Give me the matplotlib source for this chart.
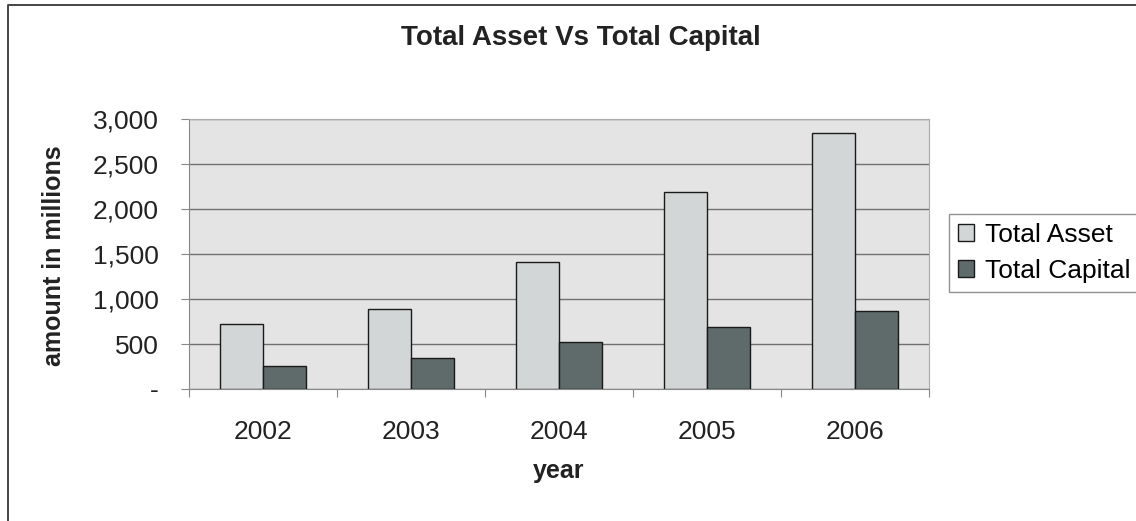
import numpy as np
import matplotlib.pyplot as plt
from matplotlib.ticker import FuncFormatter
from matplotlib.lines import Line2D

# veriler (milyon)
years = ['2002', '2003', '2004', '2005', '2006']
total_asset = [726, 889, 1408, 2193, 2841]
total_capital = [259, 344, 522, 685, 867]

plt.rcParams['font.family'] = ['Liberation Sans', 'DejaVu Sans']
W, H = 1136, 521

fig = plt.figure(figsize=(W / 100, H / 100), dpi=100)
ax = fig.add_axes([189 / W, 1 - 389 / H, 740 / W, 270 / H])

# dış çerçeve (sol ve üst kenar görünüyor)
fig.lines.append(Line2D([8 / W, 8 / W, 1.0], [0.0, 1 - 5 / H, 1 - 5 / H],
                        transform=fig.transFigure, color='#444444', linewidth=1.4))

x = np.arange(len(years))
w = 0.29
ax.bar(x - w / 2, total_asset, w, color='#d3d6d6', edgecolor='#1a1a1a',
       linewidth=1.0, label='Total Asset', zorder=3)
ax.bar(x + w / 2, total_capital, w, color='#5f6a6a', edgecolor='#1a1a1a',
       linewidth=1.0, label='Total Capital', zorder=3)

ax.set_facecolor('#e4e4e4')
ax.set_xlim(-0.5, len(years) - 0.5)
ax.set_ylim(0, 3000)
ax.set_yticks(np.arange(0, 3001, 500))
ax.yaxis.set_major_formatter(FuncFormatter(lambda v, p: '-' if v == 0 else f'{int(v):,}'))
ax.grid(axis='y', color='#707070', linewidth=1.0, zorder=1)

# kategori sınırlarında tik, ortada etiket
ax.set_xticks(np.arange(-0.5, len(years), 1.0))
ax.set_xticklabels([])
ax.set_xticks(x, minor=True)
ax.set_xticklabels(years, minor=True)
ax.tick_params(axis='x', which='minor', length=0, pad=22, labelsize=19, colors='#222222')
ax.tick_params(axis='x', which='major', length=6, color='#888888')
ax.tick_params(axis='y', length=6, color='#888888', labelsize=19, labelcolor='#222222', pad=16)

for s in ['top', 'right']:
    ax.spines[s].set_color('#aaaaaa')
for s in ['left', 'bottom']:
    ax.spines[s].set_color('#888888')

fig.text(54 / W, 1 - 256 / H, 'amount in millions', rotation=90, ha='center', va='center',
         fontsize=18, fontweight='bold', color='#222222')
fig.text(559 / W, 1 - 471 / H, 'year', ha='center', va='center',
         fontsize=18, fontweight='bold', color='#222222')
fig.text(581 / W, 1 - 38 / H, 'Total Asset Vs Total Capital', ha='center', va='center',
         fontsize=20, fontweight='bold', color='#222222')

leg = ax.legend(loc='center left', bbox_to_anchor=(949 / W, 1 - 253 / H),
                bbox_transform=fig.transFigure, fontsize=19, frameon=True, fancybox=False,
                handlelength=0.6, handleheight=0.6, handletextpad=0.4, borderpad=0.35,
                borderaxespad=0, labelspacing=0.45, edgecolor='#777777')
leg.get_frame().set_linewidth(1.0)

fig.savefig('out.png', dpi=100, facecolor='white')
